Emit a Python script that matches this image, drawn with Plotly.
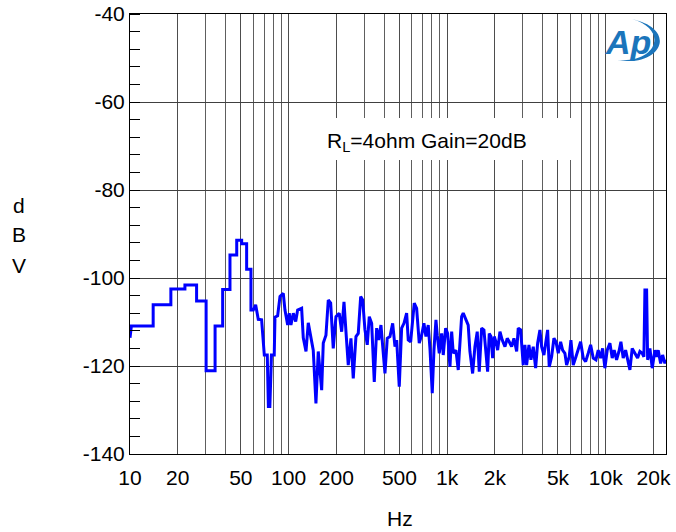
import plotly.graph_objects as go

# ---- data ----
start_hz = 10.0
start_dbv = -113.6

# low-frequency FFT bins drawn as steps
bin_edges_hz = [10.2, 14.0, 18.1, 22.2, 26.3, 30.2, 34.4, 38.4, 42.7, 47.1, 50.6, 54.4, 57.9]
bin_dbv = [-110.9, -106.1, -102.5, -101.6, -105.2, -121.1, -110.9, -102.6, -94.8, -91.4, -92.2, -98.0]

freq_hz = [57.9, 59.9, 62.0, 64.4, 67.6, 70.3, 73.4, 74.6, 76.2, 78.0, 81.2, 82.1, 85.3, 88.3, 92.6,
           94.9, 98.7, 101.0, 103.5, 107.1, 110.9, 114.1, 120.9, 123.8, 128.8, 133.1, 138.4, 143.1,
           148.8, 153.9, 161.7, 165.5, 172.1, 178.0, 184.3, 191.3, 199.0, 208.7, 216.2, 223.6, 230.1,
           237.9, 247.4, 255.8, 266.1, 275.1, 284.9, 293.3, 303.2, 313.5, 322.8, 334.2, 347.1, 359.4,
           370.0, 382.5, 395.5, 405.4, 419.1, 435.9, 453.4, 468.8, 480.5, 498.9, 516.5, 534.1, 555.4,
           568.5, 588.7, 606.0, 620.3, 642.2, 666.9, 690.5, 714.0, 735.0, 760.0, 779.1, 805.5, 825.7,
           850.0, 866.2, 891.7, 923.3, 945.0, 978.4, 1007, 1042, 1068, 1093, 1136, 1175, 1204, 1234,
           1263, 1314, 1358, 1392, 1448, 1497, 1548, 1594, 1650, 1706, 1756, 1800, 1843, 1889, 1936,
           1982, 2031, 2082, 2153, 2226, 2315, 2393, 2464, 2551, 2638, 2744, 2808, 2907, 3019, 3094,
           3171, 3280, 3377, 3491, 3615, 3721, 3847, 3943, 4077, 4198, 4303, 4404, 4560, 4715, 4853,
           5018, 5195, 5348, 5530, 5669, 5888, 6035, 6240, 6490, 6709, 6947, 7215, 7470, 7758, 8032,
           8341, 8675, 8970, 9287, 9560, 9885, 10220, 10630, 10990, 11310, 11710, 12120, 12470,
           12890, 13350, 13870, 14210, 14690, 15280, 15890, 16430, 16990, 17410, 17670, 18110, 18380,
           19000, 19650, 20430, 20940, 21430, 22200, 22850, 23620, 24000]
dbv = [-107.3, -107.3, -106.1, -109.4, -109.5, -117.5, -117.5, -129.2, -129.2, -117.5, -117.5, -108.9,
       -108.6, -104.2, -103.5, -107.3, -110.7, -108.0, -110.7, -108.0, -109.9, -107.3, -106.9, -113.6,
       -116.7, -110.2, -114.1, -116.4, -128.5, -116.7, -125.5, -114.8, -113.0, -105.0, -105.7, -116.0,
       -108.8, -108.0, -112.2, -105.4, -112.2, -119.8, -113.7, -122.8, -113.3, -112.6, -104.2, -105.0,
       -111.8, -115.2, -108.8, -110.3, -123.6, -111.4, -114.1, -110.7, -117.1, -121.7, -113.7, -113.3,
       -110.3, -115.6, -114.1, -124.7, -111.4, -110.3, -108.0, -114.1, -114.5, -109.9, -105.7, -106.9,
       -114.8, -113.0, -110.3, -113.3, -110.7, -116.0, -126.2, -116.4, -109.5, -113.0, -117.1, -112.6,
       -117.5, -111.4, -112.6, -120.2, -112.2, -117.1, -116.4, -120.9, -113.3, -108.8, -108.0, -109.5,
       -110.7, -116.7, -121.7, -115.6, -112.2, -121.3, -111.4, -111.8, -117.9, -121.3, -112.6, -113.3,
       -118.2, -113.3, -114.5, -116.4, -112.2, -114.1, -115.6, -113.7, -114.5, -115.6, -113.7, -116.7,
       -111.4, -111.8, -119.8, -115.2, -119.8, -115.2, -118.6, -115.6, -120.5, -114.8, -111.8, -115.6,
       -117.5, -114.5, -111.8, -120.2, -117.9, -113.7, -114.5, -117.1, -114.5, -116.4, -117.1, -119.8,
       -117.9, -114.1, -119.8, -117.9, -116.0, -114.5, -118.2, -119.0, -117.1, -115.2, -118.2, -118.6,
       -116.4, -118.2, -116.0, -120.5, -116.4, -114.8, -118.2, -116.4, -118.6, -116.7, -114.5, -118.2,
       -116.4, -119.0, -120.9, -116.0, -117.1, -118.2, -116.7, -117.1, -117.9, -102.7, -102.7, -118.6,
       -116.0, -120.5, -116.4, -117.9, -116.4, -119.4, -117.5, -119.4, -118.6]

x_tickvals = [10, 20, 50, 100, 200, 500, 1000, 2000, 5000, 10000, 20000]
x_ticktext = ["10", "20", "50", "100", "200", "500", "1k", "2k", "5k", "10k", "20k"]
x_minor_vals = [30, 40, 60, 70, 80, 90, 300, 400, 600, 700, 800, 900,
                3000, 4000, 6000, 7000, 8000, 9000]
y_tickvals = [-140, -120, -100, -80, -60, -40]
y_ticktext = ["-140", "-120", "-100", "-80", "-60", "-40"]
annotation_text = "R<sub>L</sub>=4ohm Gain=20dB"

# ---- build the trace: steps for the low bins, then the measured points ----
xs = [start_hz]
ys = [start_dbv]
for i, v in enumerate(bin_dbv):
    xs += [bin_edges_hz[i], bin_edges_hz[i + 1]]
    ys += [v, v]
xs += freq_hz
ys += dbv

FONT = "Liberation Sans, Arial, sans-serif"

fig = go.Figure()
fig.add_trace(go.Scatter(x=xs, y=ys, mode="lines",
                         line=dict(color="#0000ff", width=3),
                         showlegend=False, hoverinfo="skip"))

fig.update_layout(
    template="none",
    width=676, height=532, autosize=False,
    margin=dict(l=130, r=10, t=14, b=78, pad=0),
    paper_bgcolor="white", plot_bgcolor="white",
    font=dict(family=FONT, size=20, color="black"),
    xaxis=dict(type="log", range=[1, 4.3802], automargin=False,
               tickmode="array", tickvals=x_tickvals, ticktext=x_ticktext,
               showgrid=True, gridcolor="#4d4d4d", gridwidth=1,
               minor=dict(tickmode="array", tickvals=x_minor_vals, showgrid=True,
                          gridcolor="#5e5e5e", gridwidth=1, ticks=""),
               showline=True, linecolor="black", linewidth=1, mirror=True,
               ticks="", ticklabelstandoff=5, zeroline=False,
               tickfont=dict(size=21, family=FONT)),
    yaxis=dict(range=[-140, -40], automargin=False,
               tickmode="array", tickvals=y_tickvals, ticktext=y_ticktext,
               showgrid=True, gridcolor="#404040", gridwidth=1,
               minor=dict(tick0=-140, dtick=4, ticks="inside", ticklen=10,
                          tickcolor="black", tickwidth=1, showgrid=False),
               showline=True, linecolor="black", linewidth=1, mirror=True,
               ticks="", ticklabelstandoff=0, zeroline=False,
               tickfont=dict(size=21, family=FONT)),
)

def px(xp):
    return (xp - 130) / 536.0

def py(yp):
    return (454 - yp) / 440.0

def label(x, y, text, size=21, color="black"):
    fig.add_annotation(xref="paper", yref="paper", x=px(x), y=py(y),
                       xanchor="center", yanchor="middle",
                       text=text, showarrow=False,
                       font=dict(size=size, family=FONT, color=color))

# white box behind the condition text
fig.add_shape(type="rect", xref="paper", yref="paper",
              x0=px(290), x1=px(578), y0=py(160), y1=py(118),
              fillcolor="white", line=dict(width=0), layer="above")
label(427, 142, annotation_text)

# axis titles
label(400, 518, "Hz")
for ch, yy in zip(["d", "B", "V"], [205, 235, 265]):
    label(19, yy, ch)

# Ap logo
fig.add_shape(type="path", xref="paper", yref="paper",
              path=f"M {px(617)} {py(60)} C {px(660)} {py(68)} {px(680)} {py(30)} {px(632)} {py(19)} "
                   f"C {px(670)} {py(30)} {px(656)} {py(64)} {px(617)} {py(60)} Z",
              fillcolor="#1b75bb", line=dict(width=0), layer="above")
label(628, 42, "<b><i>Ap</i></b>", size=34, color="#1b75bb")

fig.write_html("out.html")
